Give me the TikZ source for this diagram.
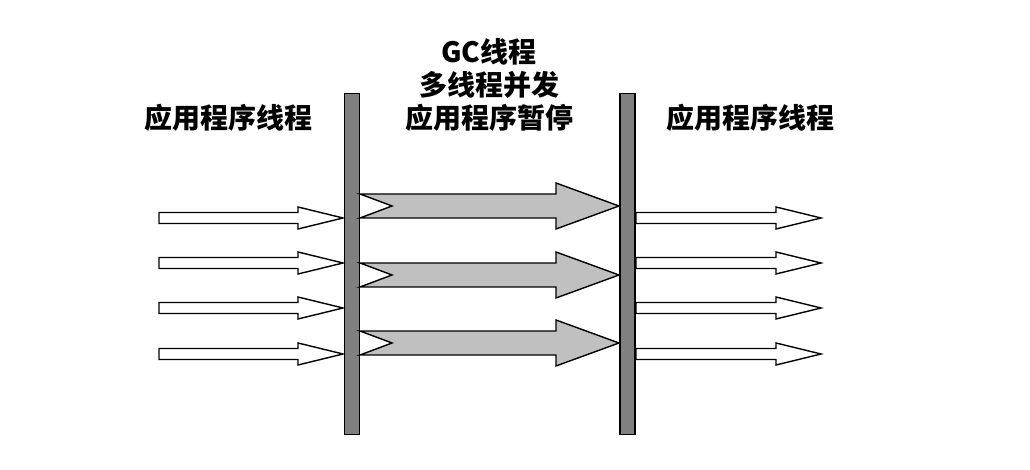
\documentclass[tikz,border=0pt]{standalone}
\usepackage{fontspec}
\newfontfamily\cjk{Noto Sans CJK SC}
\usetikzlibrary{positioning,calc}
\definecolor{bargray}{HTML}{808080}
\definecolor{gcgray}{HTML}{C0C0C0}

% white thread arrow: start x, tip x, y
\newcommand{\threadarrow}[3]{%
  \draw[thread arrow] (#1,#3+5.5) -- (#2-45,#3+5.5) -- (#2-45,#3+11) -- (#2,#3)
    -- (#2-45,#3-11) -- (#2-45,#3-5.5) -- (#1,#3-5.5) -- cycle;}
% grey gc arrow with notched tail: start x, tip x, y
\newcommand{\gcarrow}[3]{%
  \draw[gc arrow] (#1,#3+12) -- (#2-63,#3+12) -- (#2-63,#3+23) -- (#2,#3)
    -- (#2-63,#3-23) -- (#2-63,#3-12) -- (#1,#3-12) -- (#1+32,#3) -- cycle;}

\begin{document}
\begin{tikzpicture}[x=1pt, y=1pt,
    every node/.style={font=\cjk\bfseries\fontsize{28}{33}\selectfont, align=center},
    thread arrow/.style={draw, line width=1.4pt, fill=white, line join=miter},
    gc arrow/.style={draw, line width=1.4pt, fill=gcgray, line join=miter},
    bar/.style={draw, line width=1.8pt, fill=bargray, minimum width=15pt,
      minimum height=341pt, inner sep=0pt}]
  \useasboundingbox (0,0) rectangle (1030,470);
  % stop the world bars
  \node[bar] (LBar) at (352,206) {};
  \node[bar] (RBar) at (627.5,206) {};
  % labels
  \node (LText) at (228,352) {应用程序线程};
  \node (MText) at (489,385) {GC线程\\多线程并发\\应用程序暂停};
  \node (RText) at (750,352) {应用程序线程};
  % application threads before
  \threadarrow{159}{343}{252}
  \threadarrow{159}{343}{207}
  \threadarrow{159}{343}{162}
  \threadarrow{159}{343}{116}
  % gc threads
  \gcarrow{360}{619}{264}
  \gcarrow{360}{619}{195}
  \gcarrow{360}{619}{127}
  % application threads after
  \threadarrow{636}{821}{252}
  \threadarrow{636}{821}{207}
  \threadarrow{636}{821}{162}
  \threadarrow{636}{821}{116}
\end{tikzpicture}
\end{document}
